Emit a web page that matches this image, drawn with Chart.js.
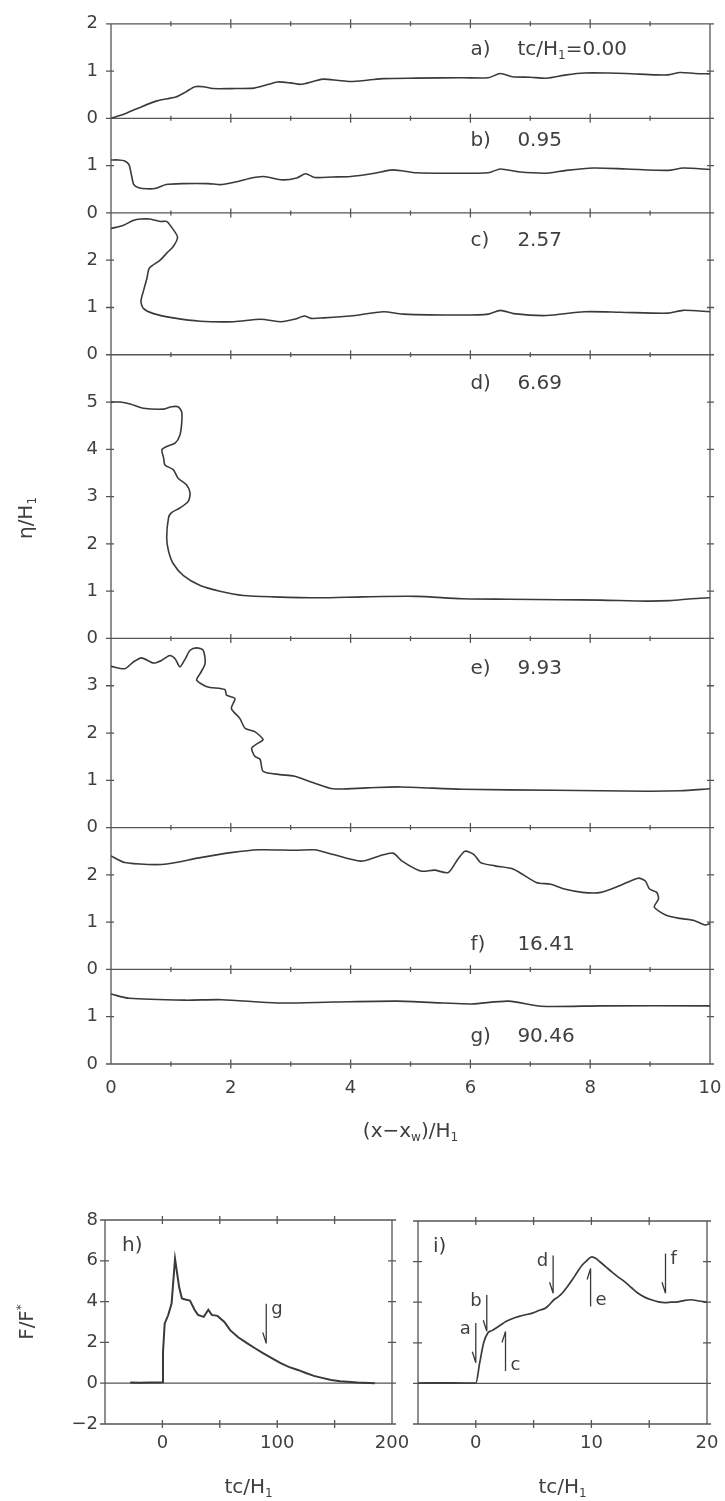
<!DOCTYPE html>
<html>
<head>
<meta charset="utf-8">
<title>Interface profiles and force history</title>
<script src="https://cdn.jsdelivr.net/npm/chart.js@4.4.1/dist/chart.umd.min.js"></script>
<style>
  html, body { margin: 0; padding: 0; background: #ffffff; }
  body { width: 725px; height: 1501px; position: relative; overflow: hidden; }
  canvas { position: absolute; }
  #profiles { left: 0; top: 0; }
  #forceLong { left: 0; top: 1180px; }
  #forceShort { left: 400px; top: 1180px; }
</style>
</head>
<body>
<canvas id="profiles" width="725" height="1160" style="width:725px;height:1160px"></canvas>
<canvas id="forceLong" width="415" height="321" style="width:415px;height:321px"></canvas>
<canvas id="forceShort" width="325" height="321" style="width:325px;height:321px"></canvas>
<script>
// ---- panel meta ----
const panelIds = ['a', 'b', 'c', 'd', 'e', 'f', 'g'];
const tcValues = [0.00, 0.95, 2.57, 6.69, 9.93, 16.41, 90.46];
const panelTop = [2, 2, 3, 6, 4, 3, 2];
const xTicks = [0, 2, 4, 6, 8, 10];

// ---- interface elevation eta/H1 along (x - xw)/H1 ----
const aX = [0, 0.2, 0.46, 0.77, 1.08, 1.25, 1.4, 1.54, 1.7, 2.0, 2.39, 2.6, 2.78, 3.0, 3.17, 3.4, 3.55, 3.8, 4.0, 4.3, 4.55, 5.1, 5.86, 6.3, 6.5, 6.7, 7.0, 7.27, 7.6, 7.9, 8.3, 8.6, 9.1, 9.3, 9.5, 9.75, 10];
const aY = [0, 0.08, 0.22, 0.37, 0.45, 0.56, 0.67, 0.67, 0.63, 0.63, 0.64, 0.71, 0.77, 0.75, 0.72, 0.79, 0.83, 0.8, 0.78, 0.81, 0.84, 0.85, 0.86, 0.86, 0.95, 0.88, 0.87, 0.85, 0.92, 0.96, 0.96, 0.95, 0.92, 0.92, 0.97, 0.95, 0.94];

const bX = [0, 0.12, 0.23, 0.3, 0.34, 0.38, 0.45, 0.6, 0.75, 0.92, 1.2, 1.62, 1.85, 2.1, 2.31, 2.55, 2.86, 3.1, 3.25, 3.4, 3.7, 4.0, 4.4, 4.7, 5.1, 5.6, 6.3, 6.5, 6.8, 7.27, 7.6, 8.05, 8.6, 9.3, 9.55, 10];
const bY = [1.12, 1.12, 1.1, 1.02, 0.81, 0.6, 0.54, 0.51, 0.52, 0.6, 0.62, 0.62, 0.6, 0.66, 0.73, 0.77, 0.7, 0.74, 0.83, 0.75, 0.76, 0.77, 0.84, 0.91, 0.85, 0.84, 0.85, 0.93, 0.87, 0.84, 0.9, 0.95, 0.93, 0.9, 0.95, 0.92];

const cX = [0, 0.21, 0.37, 0.5, 0.65, 0.82, 0.93, 1.01, 1.11, 1.04, 0.93, 0.82, 0.64, 0.6, 0.54, 0.5, 0.54, 0.71, 1.04, 1.49, 2.05, 2.5, 2.84, 3.06, 3.23, 3.34, 3.55, 4.0, 4.55, 4.87, 5.86, 6.3, 6.5, 6.72, 7.27, 7.9, 8.5, 9.3, 9.55, 10];
const cY = [2.67, 2.74, 2.84, 2.87, 2.87, 2.82, 2.82, 2.7, 2.49, 2.29, 2.15, 2.0, 1.83, 1.62, 1.34, 1.13, 0.98, 0.87, 0.78, 0.71, 0.7, 0.75, 0.7, 0.75, 0.82, 0.77, 0.78, 0.82, 0.91, 0.86, 0.84, 0.86, 0.94, 0.87, 0.83, 0.91, 0.9, 0.88, 0.94, 0.91];

const dX = [0, 0.15, 0.32, 0.54, 0.88, 1.01, 1.12, 1.18, 1.18, 1.15, 1.07, 0.93, 0.85, 0.88, 0.9, 1.04, 1.12, 1.26, 1.32, 1.29, 1.15, 1.01, 0.96, 0.93, 0.96, 1.04, 1.21, 1.49, 1.82, 2.21, 2.71, 3.49, 4.2, 5.1, 5.86, 6.64, 7.5, 8.18, 8.95, 9.33, 9.7, 10];
const dY = [5.0, 5.0, 4.96, 4.87, 4.85, 4.9, 4.9, 4.79, 4.55, 4.3, 4.13, 4.06, 3.99, 3.81, 3.67, 3.57, 3.39, 3.25, 3.08, 2.9, 2.76, 2.66, 2.55, 2.13, 1.85, 1.58, 1.33, 1.12, 1.0, 0.91, 0.88, 0.86, 0.88, 0.89, 0.84, 0.83, 0.82, 0.81, 0.79, 0.8, 0.84, 0.86];

const eX = [0, 0.23, 0.37, 0.51, 0.71, 0.85, 0.98, 1.07, 1.15, 1.24, 1.32, 1.43, 1.54, 1.57, 1.49, 1.43, 1.6, 1.9, 1.93, 2.07, 2.01, 2.15, 2.24, 2.4, 2.54, 2.46, 2.35, 2.4, 2.49, 2.54, 2.82, 3.05, 3.38, 3.71, 4.27, 4.83, 5.86, 7.41, 8.95, 9.5, 10];
const eY = [3.41, 3.36, 3.5, 3.59, 3.48, 3.54, 3.64, 3.57, 3.4, 3.57, 3.75, 3.8, 3.75, 3.47, 3.26, 3.12, 2.98, 2.92, 2.8, 2.73, 2.52, 2.31, 2.1, 2.03, 1.86, 1.79, 1.68, 1.51, 1.44, 1.19, 1.12, 1.09, 0.95, 0.82, 0.84, 0.86, 0.81, 0.79, 0.77, 0.78, 0.82];

const fX = [0, 0.23, 0.62, 0.93, 1.47, 2.0, 2.47, 3.09, 3.4, 3.71, 4.17, 4.48, 4.71, 4.86, 5.17, 5.4, 5.63, 5.79, 5.91, 6.06, 6.17, 6.41, 6.72, 7.1, 7.34, 7.57, 7.87, 8.18, 8.49, 8.8, 8.92, 8.99, 9.11, 9.14, 9.07, 9.26, 9.49, 9.72, 9.92, 10];
const fY = [2.4, 2.26, 2.22, 2.23, 2.36, 2.47, 2.53, 2.52, 2.53, 2.43, 2.29, 2.4, 2.46, 2.29, 2.08, 2.1, 2.05, 2.33, 2.5, 2.43, 2.26, 2.19, 2.12, 1.84, 1.8, 1.7, 1.63, 1.63, 1.77, 1.93, 1.87, 1.7, 1.63, 1.49, 1.32, 1.15, 1.08, 1.04, 0.94, 0.97];

const gX = [0, 0.3, 1.23, 1.85, 2.78, 3.7, 4.78, 5.55, 6.02, 6.64, 7.18, 8.18, 10];
const gY = [1.48, 1.39, 1.35, 1.36, 1.29, 1.31, 1.33, 1.29, 1.27, 1.33, 1.22, 1.23, 1.23];

const profileX = [aX, bX, cX, dX, eX, fX, gX];
const profileY = [aY, bY, cY, dY, eY, fY, gY];

// ---- force history F/F* against tc/H1 ----
const hX = [-28, -20, -10, -2, 0, 0.5, 2, 5, 8, 11, 14.6, 17, 20, 24, 28, 31, 36, 40, 43, 48, 54, 59, 66, 74, 81, 88, 96, 103, 110, 118, 125, 132, 140, 147, 155, 161, 170, 185];
const hY = [0.03, 0.02, 0.04, 0.03, 0.05, 1.5, 2.93, 3.33, 3.9, 6.1, 4.7, 4.15, 4.1, 4.05, 3.6, 3.35, 3.25, 3.6, 3.35, 3.3, 3.0, 2.6, 2.25, 1.95, 1.7, 1.46, 1.2, 0.98, 0.8, 0.65, 0.5, 0.36, 0.25, 0.16, 0.1, 0.07, 0.03, 0.0];
const hXTicks = [0, 100, 200];
const fYTicks = [-2, 0, 2, 4, 6, 8];

const iX = [-5, -3, -1, 0, 0.34, 0.68, 1.05, 1.4, 1.76, 2.2, 2.61, 3.2, 3.75, 4.3, 4.9, 5.5, 6.04, 6.4, 6.76, 7.1, 7.47, 7.9, 8.33, 8.8, 9.19, 9.6, 10.04, 10.4, 10.76, 11.3, 11.76, 12.3, 12.9, 13.5, 14.04, 14.6, 15.19, 15.8, 16.33, 16.9, 17.47, 18.0, 18.6, 19.3, 20];
const iY = [0.02, 0.03, 0.02, 0.02, 1.02, 2.0, 2.49, 2.6, 2.73, 2.9, 3.05, 3.2, 3.3, 3.38, 3.46, 3.6, 3.71, 3.9, 4.12, 4.25, 4.44, 4.75, 5.09, 5.5, 5.82, 6.05, 6.23, 6.15, 5.98, 5.72, 5.49, 5.25, 5.0, 4.7, 4.44, 4.25, 4.12, 4.02, 3.98, 4.0, 4.02, 4.08, 4.12, 4.06, 4.0];
const iXTicks = [0, 10, 20];

// arrows marking the instants of the profile panels (tail -> tip, in F/F*)
const arrowTail = [2.98, 4.36, 0.61, 6.3, 3.79, 6.4, 3.9];
const arrowTip = [1.02, 2.57, 2.56, 4.44, 5.66, 4.44, 1.95];
const arrowSide = ['L', 'L', 'R', 'L', 'R', 'R', 'R'];

// ---- styling ----
const FONT = "'DejaVu Sans', 'Liberation Sans', sans-serif";
const INK = '#3f3f3f';
const AXIS = '#555555';
const CURVE = '#3a3a3a';

Chart.defaults.font.family = FONT;
Chart.defaults.color = INK;

function toPoints(xs, ys) { return xs.map((x, i) => ({ x: x, y: ys[i] })); }

// text with optional sub/superscript parts: [text, 0 normal | 1 sub | 2 sup]
function richText(ctx, parts, x, y, size, align) {
  const fontFor = m => (m ? Math.round(size * 0.62) : size) + 'px ' + FONT;
  const widths = parts.map(([t, m]) => { ctx.font = fontFor(m); return ctx.measureText(t).width; });
  const total = widths.reduce((s, w) => s + w, 0);
  let cx = align === 'center' ? x - total / 2 : (align === 'right' ? x - total : x);
  ctx.textAlign = 'left';
  ctx.textBaseline = 'middle';
  parts.forEach(([t, m], i) => {
    ctx.font = fontFor(m);
    const dy = m === 1 ? size * 0.3 : (m === 2 ? -size * 0.3 : 0);
    ctx.fillText(t, cx, y + dy);
    cx += widths[i];
  });
}

function rotatedText(ctx, parts, x, y, size) {
  ctx.save();
  ctx.translate(x, y);
  ctx.rotate(-Math.PI / 2);
  richText(ctx, parts, 0, 0, size, 'center');
  ctx.restore();
}

// ---------------- stacked profile panels ----------------
const profileScales = {
  x: {
    type: 'linear', position: 'bottom', min: 0, max: 10,
    afterBuildTicks: s => { s.ticks = xTicks.map(v => ({ value: v })); },
    ticks: { padding: 2, font: { size: 18, lineHeight: 2.44 }, color: INK, maxRotation: 0, autoSkip: false },
    grid: { display: false, drawTicks: false },
    border: { display: false },
    afterFit: s => { s.height = 96; }
  }
};
panelIds.forEach((id, k) => {
  const top = panelTop[k];
  profileScales['y' + id] = {
    type: 'linear', position: 'left', stack: 'profiles', stackWeight: top,
    weight: panelIds.length - k, min: 0, max: top,
    afterBuildTicks: s => { const t = []; for (let v = 0; v <= top; v++) t.push({ value: v }); s.ticks = t; },
    ticks: {
      padding: 13, font: { size: 18 }, color: INK, autoSkip: false,
      callback: v => (v === top && k > 0) ? '' : String(v)
    },
    grid: { display: false, drawTicks: false },
    border: { display: false },
    afterFit: s => { s.width = 111; }
  };
});

const labelAt = [1.45, 1.52, 2.42, 5.39, 3.36, 0.52, 0.58];

const profileFrame = {
  id: 'profileFrame',
  beforeDatasetsDraw(chart) {
    const { ctx, chartArea: area, scales } = chart;
    const x = scales.x;
    ctx.save();
    ctx.strokeStyle = AXIS;
    ctx.lineWidth = 1.3;
    ctx.beginPath();
    ctx.moveTo(area.left, area.top); ctx.lineTo(area.left, area.bottom);
    ctx.moveTo(area.right, area.top); ctx.lineTo(area.right, area.bottom);
    const rows = [scales.ya.getPixelForValue(panelTop[0])]
      .concat(panelIds.map(id => scales['y' + id].getPixelForValue(0)));
    rows.forEach(py => {
      ctx.moveTo(area.left - 5, py); ctx.lineTo(area.right + 4, py);
      for (let v = 1; v < 10; v++) {
        const px = x.getPixelForValue(v);
        const L = v % 2 === 0 ? 4.5 : 2.5;
        ctx.moveTo(px, py - L); ctx.lineTo(px, py + L);
      }
    });
    panelIds.forEach((id, k) => {
      const s = scales['y' + id];
      for (let v = 1; v < panelTop[k]; v++) {
        const py = s.getPixelForValue(v);
        ctx.moveTo(area.left - 5, py); ctx.lineTo(area.left + 3, py);
        ctx.moveTo(area.right - 3, py); ctx.lineTo(area.right + 4, py);
      }
    });
    ctx.stroke();
    ctx.restore();
  },
  afterDraw(chart) {
    const { ctx, chartArea: area, scales } = chart;
    ctx.save();
    ctx.fillStyle = INK;
    panelIds.forEach((id, k) => {
      const py = scales['y' + id].getPixelForValue(labelAt[k]);
      const px = scales.x.getPixelForValue(6);
      richText(ctx, [[id + ')', 0]], px, py, 20, 'left');
      const val = tcValues[k].toFixed(2);
      const parts = k === 0 ? [['tc/H', 0], ['1', 1], ['=' + val, 0]] : [[val, 0]];
      richText(ctx, parts, px + 47, py, 20, 'left');
    });
    rotatedText(ctx, [['\u03B7/H', 0], ['1', 1]], 27, 518, 20);
    richText(ctx, [['(x\u2212x', 0], ['w', 1], [')/H', 0], ['1', 1]], (area.left + area.right) / 2, 1132, 20, 'center');
    ctx.restore();
  }
};

new Chart(document.getElementById('profiles'), {
  type: 'scatter',
  data: {
    datasets: panelIds.map((id, k) => ({
      label: id,
      data: toPoints(profileX[k], profileY[k]),
      xAxisID: 'x',
      yAxisID: 'y' + id,
      showLine: true,
      borderColor: CURVE,
      borderWidth: 1.6,
      pointRadius: 0,
      tension: 0.25
    }))
  },
  options: {
    responsive: false,
    animation: false,
    events: [],
    layout: { padding: { top: 23, right: 15, left: 0, bottom: 0 } },
    plugins: { legend: { display: false }, tooltip: { enabled: false } },
    scales: profileScales
  },
  plugins: [profileFrame]
});

// ---------------- force panels ----------------
function boxFrame(chart, xStep, yStep) {
  const { ctx, chartArea: a, scales: { x, y } } = chart;
  ctx.save();
  ctx.strokeStyle = AXIS;
  ctx.lineWidth = 1.3;
  ctx.beginPath();
  ctx.rect(a.left, a.top, a.right - a.left, a.bottom - a.top);
  for (let v = x.min + xStep; v < x.max - 1e-9; v += xStep) {
    const px = x.getPixelForValue(v);
    ctx.moveTo(px, a.top - 4); ctx.lineTo(px, a.top + 4);
    ctx.moveTo(px, a.bottom - 4); ctx.lineTo(px, a.bottom + 4);
  }
  for (let v = y.min; v <= y.max + 1e-9; v += yStep) {
    const py = y.getPixelForValue(v);
    ctx.moveTo(a.left - 5, py); ctx.lineTo(a.left + 4, py);
    ctx.moveTo(a.right - 4, py); ctx.lineTo(a.right + 4, py);
  }
  const p0 = y.getPixelForValue(0);
  ctx.moveTo(a.left, p0); ctx.lineTo(a.right, p0);
  ctx.stroke();
  ctx.restore();
}

function drawArrow(chart, k) {
  const { ctx, scales: { x, y } } = chart;
  const px = x.getPixelForValue(tcValues[k]);
  const tail = y.getPixelForValue(arrowTail[k]);
  const tip = y.getPixelForValue(arrowTip[k]);
  const dir = tip > tail ? 1 : -1;
  ctx.save();
  ctx.strokeStyle = CURVE;
  ctx.lineWidth = 1.3;
  ctx.beginPath();
  ctx.moveTo(px, tail); ctx.lineTo(px, tip);
  ctx.moveTo(px, tip); ctx.lineTo(px - 3.5, tip - dir * 11);
  ctx.stroke();
  ctx.fillStyle = INK;
  const ly = tail + dir * 6;
  if (arrowSide[k] === 'L') richText(ctx, [[panelIds[k], 0]], px - 5, ly, 18, 'right');
  else richText(ctx, [[panelIds[k], 0]], px + 5, ly, 18, 'left');
  ctx.restore();
}

function forceScales(xMin, xMax, xTickVals, yWidth, showY, yPad) {
  return {
    x: {
      type: 'linear', position: 'bottom', min: xMin, max: xMax,
      afterBuildTicks: s => { s.ticks = xTickVals.map(v => ({ value: v })); },
      ticks: { padding: 2, font: { size: 18, lineHeight: 1.89 }, color: INK, maxRotation: 0, autoSkip: false },
      grid: { display: false, drawTicks: false },
      border: { display: false },
      afterFit: s => { s.height = 77; }
    },
    y: {
      type: 'linear', position: 'left', min: -2, max: 8,
      afterBuildTicks: s => { s.ticks = fYTicks.map(v => ({ value: v })); },
      ticks: { display: showY, padding: yPad, font: { size: 18 }, color: INK, autoSkip: false,
               callback: v => String(v).replace('-', '\u2212') },
      grid: { display: false, drawTicks: false },
      border: { display: false },
      afterFit: s => { s.width = yWidth; }
    }
  };
}

const longFrame = {
  id: 'longFrame',
  beforeDatasetsDraw(chart) { boxFrame(chart, 50, 2); },
  afterDraw(chart) {
    const { ctx, chartArea: a } = chart;
    drawArrow(chart, 6);
    ctx.save();
    ctx.fillStyle = INK;
    richText(ctx, [['h)', 0]], a.left + 17, a.top + 26, 20, 'left');
    rotatedText(ctx, [['F/F', 0], ['*', 2]], 28, 142, 20);
    richText(ctx, [['tc/H', 0], ['1', 1]], (a.left + a.right) / 2, 308, 20, 'center');
    ctx.restore();
  }
};

const shortFrame = {
  id: 'shortFrame',
  beforeDatasetsDraw(chart) { boxFrame(chart, 5, 2); },
  afterDraw(chart) {
    const { ctx, chartArea: a } = chart;
    for (let k = 0; k < 6; k++) drawArrow(chart, k);
    ctx.save();
    ctx.fillStyle = INK;
    richText(ctx, [['i)', 0]], a.left + 15, a.top + 26, 20, 'left');
    richText(ctx, [['tc/H', 0], ['1', 1]], (a.left + a.right) / 2, 308, 20, 'center');
    ctx.restore();
  }
};

function forceChart(id, xs, ys, scales, padding, plugin, width, smooth) {
  return new Chart(document.getElementById(id), {
    type: 'scatter',
    data: {
      datasets: [{
        data: toPoints(xs, ys), showLine: true, borderColor: CURVE,
        borderWidth: width, pointRadius: 0,
        cubicInterpolationMode: smooth ? 'monotone' : 'default', tension: 0
      }]
    },
    options: {
      responsive: false, animation: false, events: [],
      layout: { padding: padding },
      plugins: { legend: { display: false }, tooltip: { enabled: false } },
      scales: scales
    },
    plugins: [plugin]
  });
}

forceChart('forceLong', hX, hY, forceScales(-50, 200, hXTicks, 105, true, 7),
  { top: 40, right: 23, left: 0, bottom: 0 }, longFrame, 2, false);
forceChart('forceShort', iX, iY, forceScales(-5, 20, iXTicks, 18, false, 0),
  { top: 41, right: 18, left: 0, bottom: 0 }, shortFrame, 1.7, true);
</script>
</body>
</html>
